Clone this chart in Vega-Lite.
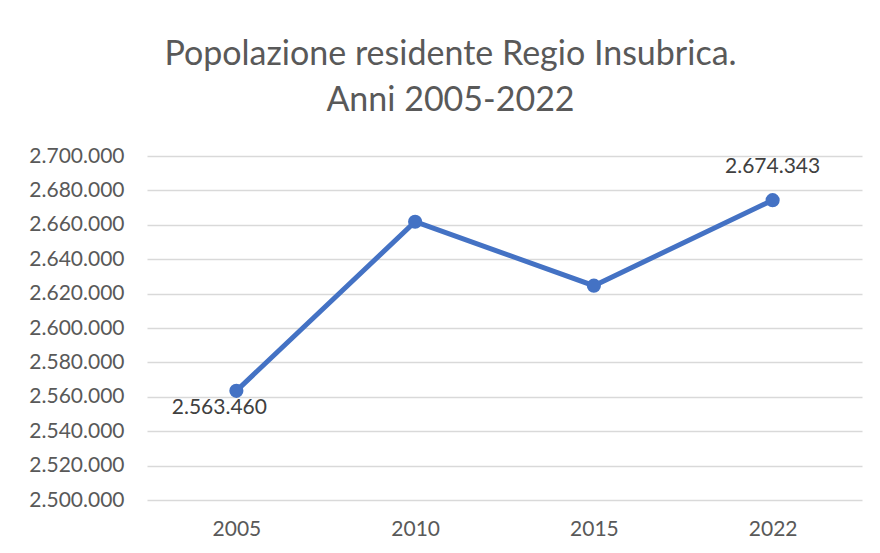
{
  "$schema": "https://vega.github.io/schema/vega-lite/v6.json",
  "autosize": "none",
  "width": 715,
  "height": 344,
  "padding": {"left": 147, "top": 156, "right": 18, "bottom": 53},
  "background": "white",
  "config": {
    "locale": {"number": {"decimal": ",", "thousands": ".", "grouping": [3], "currency": ["€", ""]}},
    "view": {"stroke": null},
    "font": "Lato"
  },
  "title": {
    "text": ["Popolazione residente Regio Insubrica.", "Anni 2005-2022"],
    "font": "Lato",
    "fontSize": 34,
    "fontWeight": "normal",
    "color": "#595959",
    "lineHeight": 46,
    "anchor": "middle",
    "frame": "group",
    "dx": -54,
    "offset": 27
  },
  "data": {"values": [
    {"anno": "2005", "popolazione": 2563460},
    {"anno": "2010", "popolazione": 2661800},
    {"anno": "2015", "popolazione": 2624600},
    {"anno": "2022", "popolazione": 2674343}
  ]},
  "encoding": {
    "x": {"field": "anno", "type": "ordinal", "sort": null,
      "axis": {"title": null, "labelAngle": 0, "labelFont": "Lato", "labelFontSize": 21, "labelColor": "#595959", "labelPadding": 18, "ticks": false, "domain": false, "grid": false}},
    "y": {"field": "popolazione", "type": "quantitative",
      "scale": {"domain": [2500000, 2700000], "zero": false, "nice": false},
      "axis": {"title": null, "values": [2500000, 2520000, 2540000, 2560000, 2580000, 2600000, 2620000, 2640000, 2660000, 2680000, 2700000], "format": ",d", "labelFont": "Lato", "labelFontSize": 21, "labelColor": "#595959", "labelPadding": 23, "ticks": false, "domain": false, "grid": true, "gridColor": "#d9d9d9", "gridWidth": 1.5}}
  },
  "layer": [
    {"mark": {"type": "line", "color": "#4472C4", "strokeWidth": 5}},
    {"mark": {"type": "point", "filled": true, "color": "#4472C4", "opacity": 1, "size": 200}},
    {"transform": [{"filter": "datum.anno == '2005'"}],
     "mark": {"type": "text", "font": "Lato", "fontSize": 21, "color": "#404040", "dx": -17, "dy": 17, "baseline": "middle"},
     "encoding": {"text": {"field": "popolazione", "type": "quantitative", "format": ",d"}}},
    {"transform": [{"filter": "datum.anno == '2022'"}],
     "mark": {"type": "text", "font": "Lato", "fontSize": 21, "color": "#404040", "dx": 0, "dy": -33, "baseline": "middle"},
     "encoding": {"text": {"field": "popolazione", "type": "quantitative", "format": ",d"}}}
  ]
}
